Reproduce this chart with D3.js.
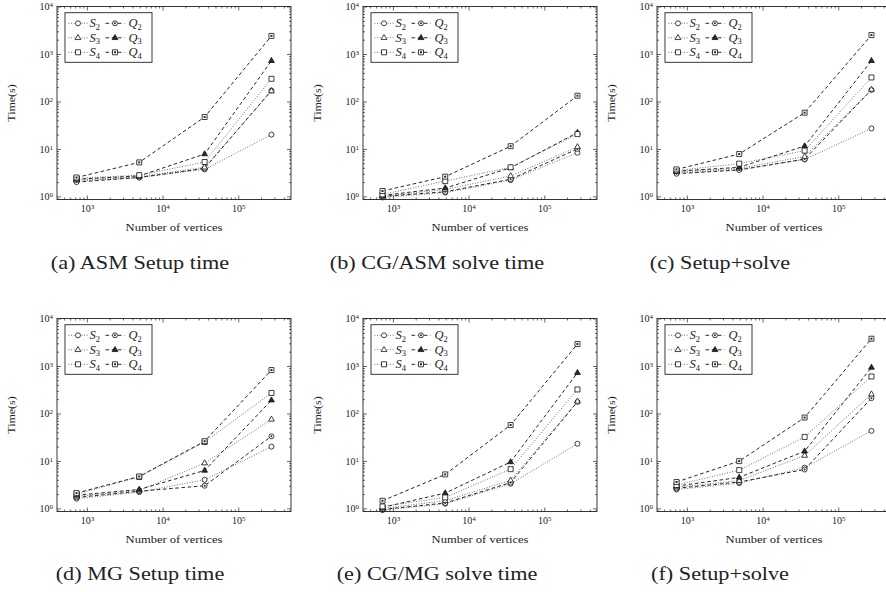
<!DOCTYPE html>
<html>
<head>
<meta charset="utf-8">
<script src="https://cdn.jsdelivr.net/npm/d3@7"></script>
<style>
  html, body { margin: 0; padding: 0; background: #fff; }
  text { font-family: "Liberation Serif", "DejaVu Serif", serif; fill: #222; }
</style>
</head>
<body>
<svg id="fig" width="886" height="592"></svg>
<script>
// Mesh sizes (number of vertices) shared by every panel
const vertices = [729, 4913, 35937, 274625];

// Series order in every panel: S2, Q2, S3, Q3, S4, Q4
const seriesKeys = ["S2", "Q2", "S3", "Q3", "S4", "Q4"];

// Timings in seconds, one row per series
const asmSetup = [
  [2.1, 2.5, 3.7, 20],
  [2.0, 2.5, 3.9, 170],
  [2.2, 2.6, 4.1, 165],
  [2.3, 2.7, 7.8, 720],
  [2.4, 2.8, 5.3, 300],
  [2.5, 5.2, 47, 2400]
];
const cgAsmSolve = [
  [0.95, 1.2, 2.2, 8.3],
  [1.0, 1.25, 2.3, 10],
  [1.0, 1.4, 2.7, 11],
  [1.05, 1.5, 4.0, 22],
  [1.1, 2.1, 4.1, 20.5],
  [1.3, 2.6, 11.4, 132]
];
const asmTotal = [
  [3.1, 3.7, 6.0, 27],
  [3.0, 3.6, 6.1, 175],
  [3.3, 3.9, 6.9, 178],
  [3.4, 4.1, 11.5, 720],
  [3.5, 4.9, 9.2, 320],
  [3.7, 7.8, 58, 2500]
];
const mgSetup = [
  [1.6, 2.2, 4.0, 20],
  [1.7, 2.3, 3.0, 33],
  [1.8, 2.4, 9.0, 75],
  [1.9, 2.5, 6.3, 190],
  [2.0, 4.6, 25, 270],
  [2.1, 4.7, 26, 820]
];
const cgMgSolve = [
  [0.92, 1.25, 3.3, 23],
  [0.95, 1.3, 3.5, 175],
  [1.0, 1.45, 3.9, 180],
  [1.05, 2.1, 9.5, 720],
  [1.1, 1.7, 6.7, 320],
  [1.45, 5.2, 57, 2900]
];
const mgTotal = [
  [2.5, 3.4, 7.2, 43],
  [2.65, 3.6, 6.6, 210],
  [2.8, 3.85, 13, 255],
  [2.95, 4.5, 16, 930],
  [3.1, 6.4, 32, 600],
  [3.6, 9.9, 82, 3750]
];

const panelData = [asmSetup, cgAsmSolve, asmTotal, mgSetup, cgMgSolve, mgTotal];
const captions = [
  "(a) ASM Setup time", "(b) CG/ASM solve time", "(c) Setup+solve",
  "(d) MG Setup time", "(e) CG/MG solve time", "(f) Setup+solve"
];
const xTickValues = [1e3, 1e4, 1e5];
const yTickValues = [1e0, 1e1, 1e2, 1e3, 1e4];
const xLabel = "Number of vertices";
const yLabel = "Time(s)";

// ---- layout ----
const colLeft = [57, 363, 657];
const rowTop = [6.5, 318.5];
const plotW = 234, plotH = 193;
const captionX = [140, 437, 720];
const captionY = [269, 580];
const xDomain = [Math.pow(10, 2.605), Math.pow(10, 5.697)];
const yDomain = [0.86, 1e4];
const widen = 1.14; // horizontal stretch applied to labels

const svg = d3.select("#fig");

function stretch(sel, k) {
  sel.each(function () {
    const len = this.getComputedTextLength();
    d3.select(this).attr("textLength", len * k).attr("lengthAdjust", "spacingAndGlyphs");
  });
}

function powerLabel(sel) {
  sel.each(function (d) {
    const t = d3.select(this);
    const e = Math.round(Math.log10(d));
    t.text(null);
    t.append("tspan").text("10");
    t.append("tspan").attr("dy", "-0.42em").attr("font-size", "0.7em").text(e);
  });
}

const outline = {
  "2": "M2.5,0A2.5,2.5 0 1,1 -2.5,0A2.5,2.5 0 1,1 2.5,0Z",
  "3": "M0,-3.3L2.9,1.75L-2.9,1.75Z",
  "4": "M-2.5,-2.5H2.5V2.5H-2.5Z"
};
const centre = {
  "2": "M1,0A1,1 0 1,1 -1,0A1,1 0 1,1 1,0Z",
  "4": "M-1,-1H1V1H-1Z"
};

function seriesStyle(key) {
  const open = key[0] === "S";
  return {
    open,
    dash: open ? "0.9 1.7" : "3.6 2.6",
    stroke: open ? "#3a3a3a" : "#111",
    width: open ? 0.8 : 0.9,
    shape: key[1]
  };
}

function drawMarker(g, key, cx, cy) {
  const st = seriesStyle(key);
  const m = g.append("g").attr("transform", `translate(${cx},${cy})`);
  const filledTri = !st.open && st.shape === "3";
  m.append("path")
    .attr("d", outline[st.shape])
    .attr("fill", filledTri ? "#2a2a2a" : "#fff")
    .attr("stroke", "#111")
    .attr("stroke-width", 0.8);
  if (!st.open && centre[st.shape]) {
    m.append("path").attr("d", centre[st.shape]).attr("fill", "#2a2a2a");
  }
}

panelData.forEach((data, i) => {
  const col = i % 3, row = Math.floor(i / 3);
  const x0 = colLeft[col], y0 = rowTop[row];
  const g = svg.append("g").attr("transform", `translate(${x0},${y0})`);

  const x = d3.scaleLog().domain(xDomain).range([0, plotW]);
  const y = d3.scaleLog().domain(yDomain).range([plotH, 0]);

  const xMinor = x.ticks().filter(v => !xTickValues.some(t => Math.abs(t - v) < 1e-6));
  const yMinor = y.ticks().filter(v => !yTickValues.some(t => Math.abs(t - v) < 1e-6) && v >= yDomain[0]);

  g.append("rect").attr("width", plotW).attr("height", plotH).attr("fill", "#fff");

  const axisStyle = sel => {
    sel.select(".domain").remove();
    sel.selectAll("line").attr("stroke", "#222").attr("stroke-width", 0.7);
    sel.selectAll("text").attr("font-size", 10).attr("fill", "#222");
  };

  // bottom
  g.append("g").attr("transform", `translate(0,${plotH})`)
    .call(d3.axisBottom(x).tickValues(xTickValues).tickSize(-4).tickPadding(5))
    .call(axisStyle).call(s => s.selectAll("text").call(powerLabel));
  g.append("g").attr("transform", `translate(0,${plotH})`)
    .call(d3.axisBottom(x).tickValues(xMinor).tickSize(-2).tickFormat(""))
    .call(axisStyle);
  // top (mirrored)
  g.append("g")
    .call(d3.axisTop(x).tickValues(xTickValues).tickSize(-4).tickFormat(""))
    .call(axisStyle);
  g.append("g")
    .call(d3.axisTop(x).tickValues(xMinor).tickSize(-2).tickFormat(""))
    .call(axisStyle);
  // left
  g.append("g")
    .call(d3.axisLeft(y).tickValues(yTickValues).tickSize(-4).tickPadding(4))
    .call(axisStyle).call(s => s.selectAll("text").call(powerLabel));
  g.append("g")
    .call(d3.axisLeft(y).tickValues(yMinor).tickSize(-2).tickFormat(""))
    .call(axisStyle);
  // right (mirrored)
  g.append("g").attr("transform", `translate(${plotW},0)`)
    .call(d3.axisRight(y).tickValues(yTickValues).tickSize(-4).tickFormat(""))
    .call(axisStyle);
  g.append("g").attr("transform", `translate(${plotW},0)`)
    .call(d3.axisRight(y).tickValues(yMinor).tickSize(-2).tickFormat(""))
    .call(axisStyle);

  // series: line first, then its marks
  const line = d3.line().x((d, j) => x(vertices[j])).y(d => y(d));
  seriesKeys.forEach((key, s) => {
    const st = seriesStyle(key);
    const vals = data[s];
    g.append("path").attr("d", line(vals))
      .attr("fill", "none")
      .attr("stroke", st.stroke)
      .attr("stroke-width", st.width)
      .attr("stroke-dasharray", st.dash);
    vals.forEach((v, j) => drawMarker(g, key, x(vertices[j]), y(v)));
  });

  g.append("rect").attr("width", plotW).attr("height", plotH)
    .attr("fill", "none").attr("stroke", "#222").attr("stroke-width", 0.9);

  // legend
  const lg = g.append("g").attr("transform", "translate(8,6.2)");
  lg.append("rect").attr("width", 87).attr("height", 49.6)
    .attr("fill", "#fff").attr("stroke", "#222").attr("stroke-width", 0.9);
  for (let r = 0; r < 3; r++) {
    const cy = 10.6 + r * 14.5;
    [0, 1].forEach(c => {
      const key = seriesKeys[r * 2 + c];
      const st = seriesStyle(key);
      const lx = c === 0 ? 3.5 : 40.5;
      lg.append("line").attr("x1", lx).attr("x2", lx + 19).attr("y1", cy).attr("y2", cy)
        .attr("stroke", st.stroke).attr("stroke-width", st.width).attr("stroke-dasharray", st.dash);
      drawMarker(lg, key, lx + 9.5, cy);
      const t = lg.append("text").attr("x", lx + (c === 0 ? 21 : 23)).attr("y", cy + 4).attr("font-size", 12.5);
      t.append("tspan").attr("font-style", "italic").text(key[0]);
      t.append("tspan").attr("font-size", 8.5).attr("dy", 2.6).text(key[1]);
    });
  }

  // axis titles
  g.append("text").attr("x", plotW / 2).attr("y", plotH + 31.5)
    .attr("text-anchor", "middle").attr("font-size", 11).text(xLabel)
    .call(stretch, widen);
  g.append("text")
    .attr("transform", `translate(${-42},${plotH / 2}) rotate(-90)`)
    .attr("text-anchor", "middle").attr("font-size", 10.5).text(yLabel)
    .call(stretch, widen);

  // caption
  svg.append("text").attr("x", captionX[col]).attr("y", captionY[row])
    .attr("text-anchor", "middle").attr("font-size", 19.5).text(captions[i])
    .call(stretch, widen);
});
</script>
</body>
</html>
